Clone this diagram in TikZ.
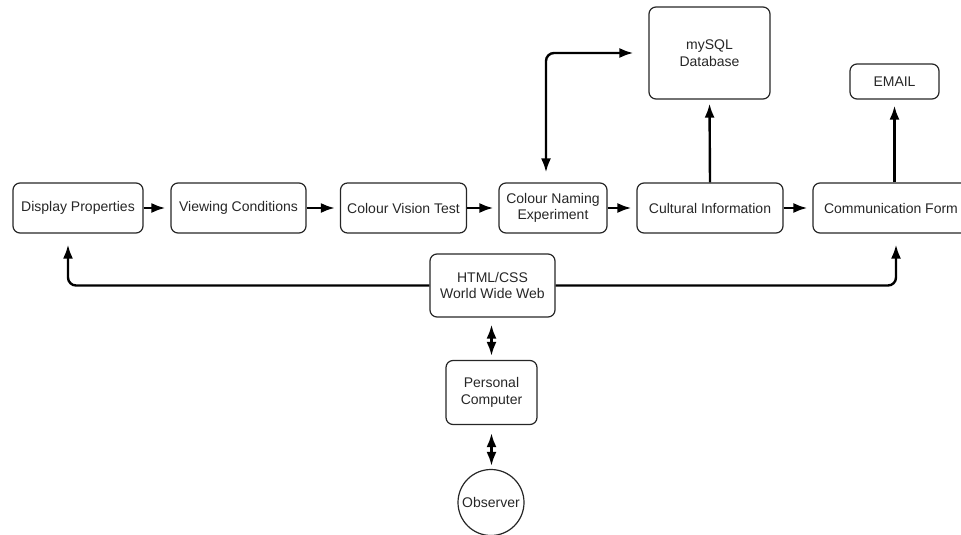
\documentclass[tikz,border=0pt]{standalone}
\usepackage{fontspec}
\setmainfont{Liberation Sans}
\usetikzlibrary{arrows.meta}
\begin{document}
\begin{tikzpicture}[x=1pt,y=-1pt,
    box/.style={shape=rectangle,draw=black!85,line width=1.2pt,rounded corners=7pt,align=center,inner sep=2pt,text=black!85,font=\fontsize{14}{16.5}\selectfont},
    link/.style={draw=black,line width=2.4pt,rounded corners=8pt,-{Latex[length=14pt,width=10pt]}},
    both/.style={draw=black,line width=2.4pt,rounded corners=8pt,{Latex[length=14pt,width=10pt]}-{Latex[length=14pt,width=10pt]}}]
    \useasboundingbox (0,0) rectangle (961,535);

    % main row
    \node[box,minimum width=130pt,minimum height=50pt] (disp) at (78,208) {Display Properties};
    \node[box,minimum width=135pt,minimum height=50pt] (view) at (238.5,208) {Viewing Conditions};
    \node[box,minimum width=126pt,minimum height=50pt] (cvt) at (403.5,208) {Colour Vision Test};
    \node[box,minimum width=108pt,minimum height=50pt] (cne) at (553,208) {Colour Naming\\Experiment};
    \node[box,minimum width=146pt,minimum height=50pt] (cult) at (710,208) {Cultural Information};
    \node[box,minimum width=156pt,minimum height=50pt] (comm) at (891,208) {Communication Form};

    % top row
    \node[box,minimum width=121pt,minimum height=92pt] (mysql) at (709.5,53) {mySQL\\Database};
    \node[box,minimum width=89pt,minimum height=35pt] (email) at (894.5,81.5) {EMAIL};

    % web, computer, observer
    \node[box,minimum width=125pt,minimum height=63pt] (html) at (492.5,285.5) {HTML/CSS\\World Wide Web};
    \node[box,minimum width=91pt,minimum height=64pt] (pc) at (491.5,392.5) {Personal\\Computer};
    \node[box,shape=circle,inner sep=0pt,minimum size=66pt] (obs) at (491,502.5) {Observer};

    \draw [link,shorten >=5pt] (disp) -- (view);
    \draw [link,shorten >=5pt] (view) -- (cvt);
    \draw [link,shorten >=5pt] (cvt) -- (cne);
    \draw [link,shorten >=5pt] (cne) -- (cult);
    \draw [link,shorten >=5pt] (cult) -- (comm);

    \draw [link,shorten >=4pt] (cult.north) -- (mysql.south);
    \draw [link,shorten >=6pt] (email.south |- comm.north) -- (email.south);
    \draw [both,shorten <=10pt,shorten >=15pt] ([xshift=-7pt]cne.north) |- (mysql.west);

    \draw [link,shorten >=11pt] (html.west) -| ([xshift=-10pt]disp.south);
    \draw [link,shorten >=11pt] (html.east) -| ([xshift=5pt]comm.south);

    \draw [both,shorten <=7pt,shorten >=4pt] (html.south -| pc.north) -- (pc.north);
    \draw [both,shorten <=8pt,shorten >=3pt] (pc.south) -- (pc.south |- obs.north);
\end{tikzpicture}
\end{document}
